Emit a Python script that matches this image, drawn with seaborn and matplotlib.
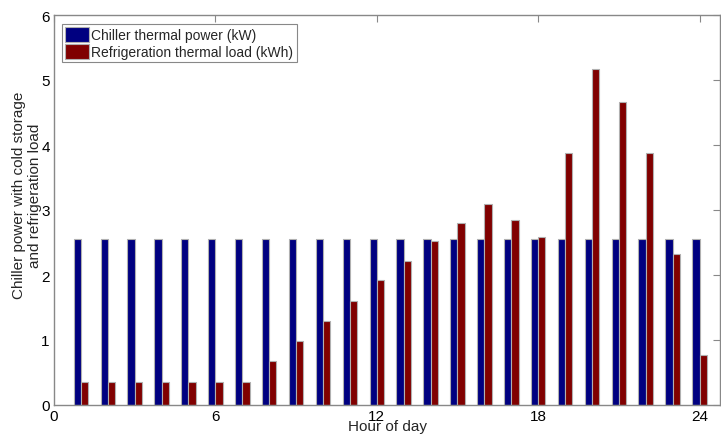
import matplotlib
matplotlib.use("Agg")
import matplotlib.pyplot as plt
import seaborn as sns
import pandas as pd

hours = list(range(1, 25))
chiller_power = [2.56] * 24
refrig_load = [0.36, 0.36, 0.36, 0.36, 0.36, 0.36, 0.36, 0.67, 0.98, 1.29, 1.60, 1.92,
               2.22, 2.53, 2.80, 3.10, 2.84, 2.58, 3.88, 5.17, 4.66, 3.88, 2.32, 0.77]
series_names = ["Chiller thermal power (kW)", "Refrigeration thermal load (kWh)"]
x_ticks = [0, 6, 12, 18, 24]
y_ticks = [0, 1, 2, 3, 4, 5, 6]

df = pd.DataFrame({
    "hour": hours * 2,
    "value": chiller_power + refrig_load,
    "series": [series_names[0]] * 24 + [series_names[1]] * 24,
})

sns.set_style("white")
plt.rcParams["font.family"] = ["Liberation Sans", "DejaVu Sans"]

fig = plt.figure(figsize=(7.21, 4.35), dpi=100)
ax = fig.add_axes([54 / 721, 1 - 406 / 435, (720 - 54) / 721, (406 - 16) / 435])

sns.barplot(data=df, x="hour", y="value", hue="series", hue_order=series_names,
            palette=["#000080", "#800000"], native_scale=True, width=0.54,
            edgecolor="#b0b0b0", linewidth=0.8, ax=ax, saturation=1)

ax.set_xlim(0, 24.76)
ax.set_ylim(0, 6)
ax.set_xticks(x_ticks)
ax.set_yticks(y_ticks)
ax.set_xticklabels([str(t) for t in x_ticks])
ax.tick_params(direction="in", length=5, color="#888888", labelsize=11, top=True, right=True,
               labelcolor="black", pad=3)
for s in ax.spines.values():
    s.set_visible(True)
    s.set_color("#888888")
    s.set_linewidth(1.0)

ax.set_xlabel("Hour of day", fontsize=11, labelpad=-3)
ax.set_ylabel("Chiller power with cold storage\nand refrigeration load", fontsize=11)
ax.yaxis.set_label_coords(-0.018, 0.54)

leg = ax.legend(loc="upper left", bbox_to_anchor=(0.012, 0.978), fontsize=10, frameon=True,
                fancybox=False, edgecolor="#888888", framealpha=1, borderpad=0.25,
                handlelength=1.7, handleheight=1.3, handletextpad=0.15, labelspacing=0.1,
                borderaxespad=0.0)
leg.get_frame().set_linewidth(0.8)

fig.savefig("out.png", dpi=100)
